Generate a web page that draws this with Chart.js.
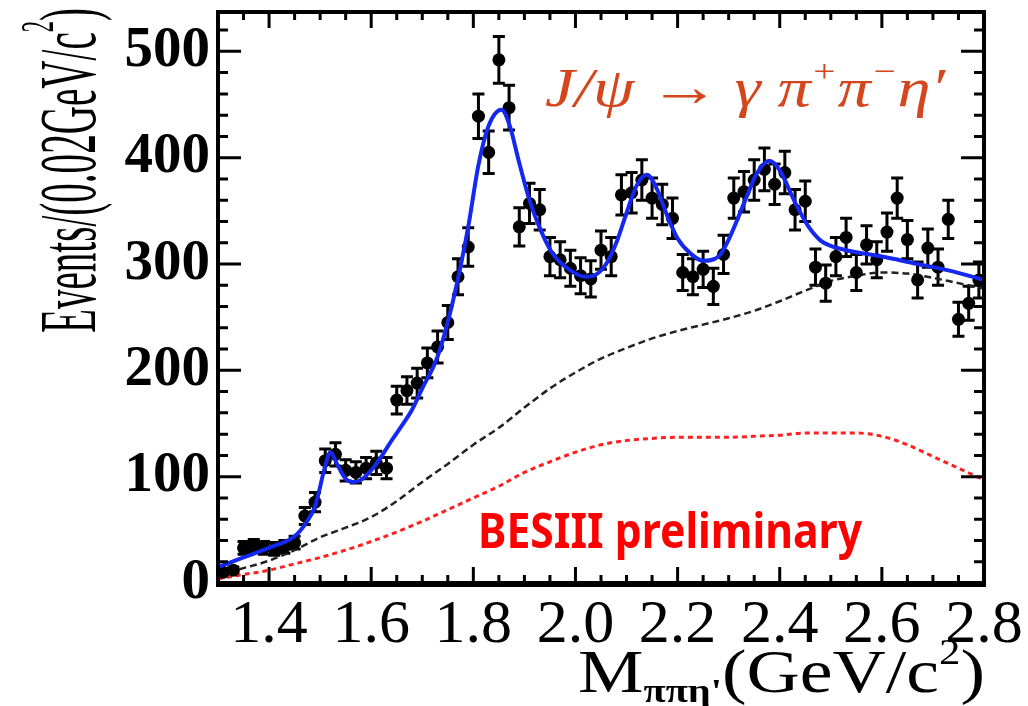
<!DOCTYPE html>
<html>
<head>
<meta charset="utf-8">
<script src="https://cdn.jsdelivr.net/npm/chart.js@4.4.1/dist/chart.umd.min.js"></script>
<style>
  html, body { margin: 0; padding: 0; background: #fff; }
  #c { display: block; }
</style>
</head>
<body>
<canvas id="c" width="1028" height="706"></canvas>
<script>
// data points (bin centres, 0.02 GeV bins)
const massBins = [1.31, 1.33, 1.35, 1.37, 1.39, 1.41, 1.43, 1.45, 1.47, 1.49,
  1.51, 1.53, 1.55, 1.57, 1.59, 1.61, 1.63, 1.65, 1.67, 1.69,
  1.71, 1.73, 1.75, 1.77, 1.79, 1.81, 1.83, 1.85, 1.87, 1.89,
  1.91, 1.93, 1.95, 1.97, 1.99, 2.01, 2.03, 2.05, 2.07, 2.09,
  2.11, 2.13, 2.15, 2.17, 2.19, 2.21, 2.23, 2.25, 2.27, 2.29,
  2.31, 2.33, 2.35, 2.37, 2.39, 2.41, 2.43, 2.45, 2.47, 2.49,
  2.51, 2.53, 2.55, 2.57, 2.59, 2.61, 2.63, 2.65, 2.67, 2.69,
  2.71, 2.73, 2.75, 2.77, 2.79];
const events = [10, 12, 33, 35, 33, 32, 34, 38, 63, 76,
  115, 121, 106, 104, 108, 113, 108, 172, 181, 188,
  207, 222, 245, 288, 316, 439, 405, 492, 447, 335,
  357, 351, 307, 304, 296, 289, 286, 313, 307, 365,
  367, 379, 362, 356, 343, 292, 288, 295, 279, 309,
  362, 368, 379, 389, 375, 386, 351, 359, 297, 282,
  307, 325, 292, 318, 304, 330, 362, 323, 285, 315,
  297, 342, 248, 263, 285];
const eventErrors = [3, 3, 6, 6, 6, 6, 6, 6, 8, 9,
  11, 11, 10, 10, 10, 11, 10, 13, 13, 14,
  14, 15, 16, 17, 18, 21, 20, 22, 21, 18,
  19, 19, 18, 17, 17, 17, 17, 18, 18, 19,
  19, 19, 19, 19, 19, 17, 17, 17, 17, 18,
  19, 19, 19, 20, 19, 20, 19, 19, 17, 17,
  18, 18, 17, 18, 17, 18, 19, 18, 17, 18,
  17, 18, 16, 16, 17];

// total fit (blue)
const fitMass = [1.30, 1.35, 1.40, 1.45, 1.47, 1.49, 1.51, 1.52, 1.535, 1.55,
  1.565, 1.58, 1.60, 1.62, 1.64, 1.66, 1.68, 1.70, 1.73, 1.76,
  1.79, 1.81, 1.83, 1.855, 1.87, 1.89, 1.91, 1.93, 1.955, 1.99,
  2.02, 2.04, 2.06, 2.08, 2.10, 2.12, 2.14, 2.16, 2.18, 2.20,
  2.225, 2.25, 2.28, 2.30, 2.33, 2.355, 2.38, 2.40, 2.43, 2.455,
  2.48, 2.50, 2.53, 2.60, 2.66, 2.73, 2.80];
const fitTotal = [15, 24, 33, 44, 55, 72, 110, 123, 110, 98,
  95, 97, 106, 119, 134, 148, 163, 183, 213, 265,
  335, 393, 430, 445, 432, 395, 360, 334, 310, 294,
  288, 290, 300, 320, 348, 374, 384, 370, 345, 324,
  310, 303, 307, 323, 357, 385, 397, 388, 358, 336,
  322, 317, 313, 307, 301, 294, 285];

// background components
const bkgMass = [1.30, 1.35, 1.40, 1.45, 1.50, 1.55, 1.60, 1.65, 1.70, 1.75,
  1.80, 1.85, 1.90, 1.95, 2.00, 2.05, 2.10, 2.15, 2.20, 2.25,
  2.30, 2.35, 2.40, 2.45, 2.50, 2.55, 2.60, 2.65, 2.70, 2.75, 2.80];
const bkgDashed = [8, 14, 21, 31, 43, 52, 62, 77, 95, 112,
  130, 146, 165, 183, 198, 211, 221, 230, 237, 243,
  249, 256, 265, 275, 284, 289, 292, 291, 287, 282, 277];
const bkgDotted = [4, 8, 12, 18, 24, 31, 39, 48, 58, 69,
  80, 91, 104, 114, 123, 130, 134, 136, 137, 137,
  137, 138, 139, 141, 141, 141, 138, 130, 119, 108, 97];

const xTicks = [1.4, 1.6, 1.8, 2.0, 2.2, 2.4, 2.6, 2.8];
const yTicks = [0, 100, 200, 300, 400, 500];

const pts = (xs, ys) => xs.map((v, i) => ({x: v, y: ys[i]}));

function drawRuns(ctx, runs, width) {
  let total = 0;
  runs.forEach(r => { ctx.font = r.font; r.w = ctx.measureText(r.t).width; total += r.w; });
  ctx.scale(width / total, 1);
  let cx = 0;
  runs.forEach(r => { ctx.font = r.font; ctx.fillText(r.t, cx, r.dy || 0); cx += r.w; });
}

const frame = {
  id: 'frame',
  beforeDatasetsDraw(chart) {
    const {ctx, scales: {x, y}} = chart;
    ctx.save();
    ctx.strokeStyle = '#000';
    ctx.lineWidth = 3;
    massBins.forEach((m, i) => {
      const px = x.getPixelForValue(m);
      const t = y.getPixelForValue(events[i] + eventErrors[i]);
      const b = y.getPixelForValue(events[i] - eventErrors[i]);
      ctx.beginPath();
      ctx.moveTo(px, t); ctx.lineTo(px, b);
      ctx.moveTo(px - 6, t); ctx.lineTo(px + 6, t);
      ctx.moveTo(px - 6, b); ctx.lineTo(px + 6, b);
      ctx.stroke();
    });
    ctx.restore();
  },
  afterDraw(chart) {
    const {ctx, chartArea: a, scales: {x, y}} = chart;
    ctx.save();
    ctx.strokeStyle = '#000';
    // ticks
    ctx.lineWidth = 3;
    ctx.beginPath();
    for (let v = 1.3; v <= 2.801; v += 0.05) {
      const px = x.getPixelForValue(v);
      const major = Math.abs(v * 5 - Math.round(v * 5)) < 0.01;
      const len = major ? 16 : 8;
      ctx.moveTo(px, a.bottom); ctx.lineTo(px, a.bottom - len);
      ctx.moveTo(px, a.top); ctx.lineTo(px, a.top + len);
    }
    for (let v = 0; v <= 537; v += 20) {
      const py = y.getPixelForValue(v);
      const major = v % 100 === 0;
      const len = major ? 23 : 10;
      ctx.moveTo(a.left, py); ctx.lineTo(a.left + len, py);
      ctx.moveTo(a.right, py); ctx.lineTo(a.right - len, py);
    }
    ctx.stroke();
    // frame
    ctx.lineWidth = 4;
    ctx.strokeRect(a.left, a.top, a.right - a.left, a.bottom - a.top);
    ctx.lineWidth = 6;
    ctx.beginPath(); ctx.moveTo(a.left - 2, a.bottom + 1); ctx.lineTo(a.right + 2, a.bottom + 1); ctx.stroke();

    // texts
    ctx.textBaseline = 'alphabetic';
    ctx.fillStyle = '#d4471e';
    ctx.save();
    ctx.translate(545, 106);
    const it = 'italic 54px "Liberation Serif"', its = 'italic 32px "Liberation Serif"';
    drawRuns(ctx, [{t: 'J/\u03C8', font: it}, {t: '\u2009\u2192\u2009', font: '58px "Liberation Serif"'},
      {t: '\u03B3 \u03C0', font: it}, {t: '+', font: its, dy: -24},
      {t: '\u03C0', font: it}, {t: '\u2212', font: its, dy: -24}, {t: '\u03B7\u2032', font: it}], 400);
    ctx.restore();

    ctx.fillStyle = '#ff0000';
    ctx.save();
    ctx.translate(478, 548);
    drawRuns(ctx, [{t: 'BESIII preliminary', font: 'bold 48px "Noto Sans"'}], 384);
    ctx.restore();

    ctx.fillStyle = '#000';
    ctx.save();
    ctx.translate(578, 692);
    const big = '62px "Liberation Serif"', sm = 'bold 34px "Liberation Serif"';
    drawRuns(ctx, [{t: 'M', font: big}, {t: '\u03C0\u03C0\u03B7\'', font: sm, dy: 10},
      {t: '(GeV/c', font: big}, {t: '2', font: '36px "Liberation Serif"', dy: -28}, {t: ')', font: big}], 407);
    ctx.restore();

    ctx.save();
    ctx.translate(95, 333);
    ctx.rotate(-Math.PI / 2);
    const yt = '80px "Liberation Serif"';
    drawRuns(ctx, [{t: 'Events/(0.02GeV/c', font: yt}, {t: '2', font: '46px "Liberation Serif"', dy: -42},
      {t: ')', font: yt}], 325);
    ctx.restore();
    ctx.restore();
  }
};

new Chart(document.getElementById('c').getContext('2d'), {
  type: 'scatter',
  data: {
    datasets: [
      {
        type: 'line',
        label: 'fit',
        data: pts(fitMass, fitTotal),
        borderColor: '#1428f0',
        borderWidth: 4,
        pointRadius: 0,
        cubicInterpolationMode: 'monotone',
        fill: false
      },
      {
        label: 'data',
        data: pts(massBins, events),
        backgroundColor: '#000',
        borderWidth: 0,
        pointRadius: 6.5
      },
      {
        type: 'line',
        label: 'background',
        data: pts(bkgMass, bkgDashed),
        borderColor: '#222',
        borderWidth: 2.5,
        borderDash: [7, 4],
        pointRadius: 0,
        cubicInterpolationMode: 'monotone',
        fill: false
      },
      {
        type: 'line',
        label: 'background 2',
        data: pts(bkgMass, bkgDotted),
        borderColor: '#ff2020',
        borderWidth: 3,
        borderDash: [5, 4],
        pointRadius: 0,
        cubicInterpolationMode: 'monotone',
        fill: false
      }
    ]
  },
  options: {
    responsive: false,
    animation: false,
    devicePixelRatio: 1,
    layout: { padding: { left: 0, top: 12, right: 44, bottom: 0 } },
    plugins: { legend: { display: false }, tooltip: { enabled: false } },
    scales: {
      x: {
        type: 'linear',
        min: 1.3,
        max: 2.8,
        grid: { display: false, drawTicks: false },
        border: { display: false },
        afterBuildTicks: s => { s.ticks = xTicks.map(v => ({value: v})); },
        afterFit: s => { s.height = 123; s.paddingLeft = 0; s.paddingRight = 0; },
        ticks: {
          autoSkip: false,
          maxRotation: 0,
          padding: 6,
          color: '#000',
          font: { family: 'Liberation Serif', size: 62 },
          callback: v => v.toFixed(1)
        }
      },
      y: {
        min: 0,
        max: 537,
        grid: { display: false, drawTicks: false },
        border: { display: false },
        afterBuildTicks: s => { s.ticks = yTicks.map(v => ({value: v})); },
        afterFit: s => { s.width = 218; s.paddingTop = 0; s.paddingBottom = 0; },
        ticks: {
          autoSkip: false,
          padding: 8,
          color: '#000',
          font: { family: 'Liberation Serif', size: 57, weight: 'bold' },
          callback: v => String(v)
        }
      }
    }
  },
  plugins: [frame]
});
</script>
</body>
</html>
